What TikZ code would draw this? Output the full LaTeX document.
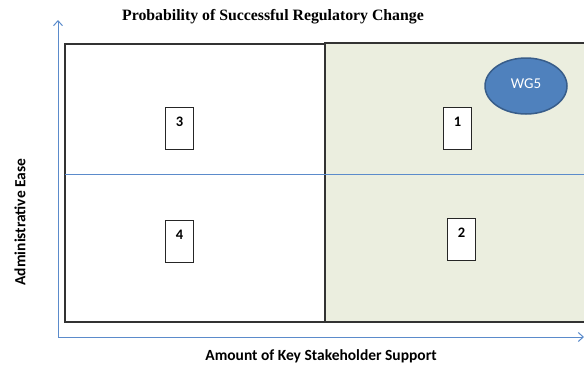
\documentclass[tikz,border=0pt]{standalone}
\usepackage{fontspec}
\setmainfont{Carlito}
\newfontfamily\titlefont{Liberation Serif}
\usetikzlibrary{arrows.meta}
\definecolor{axisblue}{HTML}{5B8BCB}
\definecolor{quadgreen}{HTML}{EBEEDF}
\definecolor{wgfill}{HTML}{4F81BD}
\definecolor{wgedge}{HTML}{385D8A}
\begin{document}
\begin{tikzpicture}[x=1pt,y=-1pt,
  quadrant/.style={draw=black!80,line width=1.2pt},
  numbox/.style={draw=black!85,fill=white,line width=0.9pt,minimum width=28pt,minimum height=42pt,
    inner sep=0pt,anchor=north west},
  numtext/.style={anchor=center,inner sep=0pt,font=\bfseries\fontsize{14.5}{15}\selectfont},
  axis/.style={draw=axisblue,line width=1pt,-{Straight Barb[length=5pt,width=9pt]}},
  axislabel/.style={font=\bfseries\fontsize{15.5}{16}\selectfont}]
\useasboundingbox (0,0) rectangle (584,367);
% quadrant panels
\fill[white] (65,44) rectangle (325,322);
\draw[quadrant] (65,44) rectangle (325,322);
\fill[quadgreen] (325,43) rectangle (590,322);
\draw[quadrant] (590,43) -- (325,43) -- (325,322) -- (590,322);
% dividing line between upper and lower halves
\coordinate (divL) at (65,174);
\coordinate (divR) at (584,174);
\draw[axisblue,line width=1pt] (divL) -- (divR);
% axes
\coordinate (origin) at (58,337);
\coordinate (ytop) at (58,20);
\coordinate (xend) at (584,337);
\draw[axis] (origin) -- (ytop);
\draw[axis] (origin) -- (xend);
% numbered boxes, each with its number near the top
\node[numbox] (q3) at (165,107) {};
\node[numtext] (n3) at ([yshift=-15pt]q3.north) {3};
\node[numbox] (q4) at (165,220) {};
\node[numtext] (n4) at ([yshift=-15pt]q4.north) {4};
\node[numbox] (q1) at (443,107) {};
\node[numtext] (n1) at ([yshift=-15pt]q1.north) {1};
\node[numbox] (q2) at (447,218) {};
\node[numtext] (n2) at ([yshift=-15pt]q2.north) {2};
% working group marker
\draw[wgedge,fill=wgfill,line width=1.5pt] (526,86) ellipse [x radius=41,y radius=28];
\node[text=white,font=\fontsize{15}{15}\selectfont] (wg) at (526,84) {WG5};
% labels
\node[font=\titlefont\bfseries\fontsize{15.8}{16}\selectfont] (title) at (273,17) {Probability of Successful Regulatory Change};
\node[axislabel] (xlab) at (321,356) {Amount of Key Stakeholder Support};
\node[axislabel,rotate=90] (ylab) at (20,222) {Administrative Ease};
\end{tikzpicture}
\end{document}
